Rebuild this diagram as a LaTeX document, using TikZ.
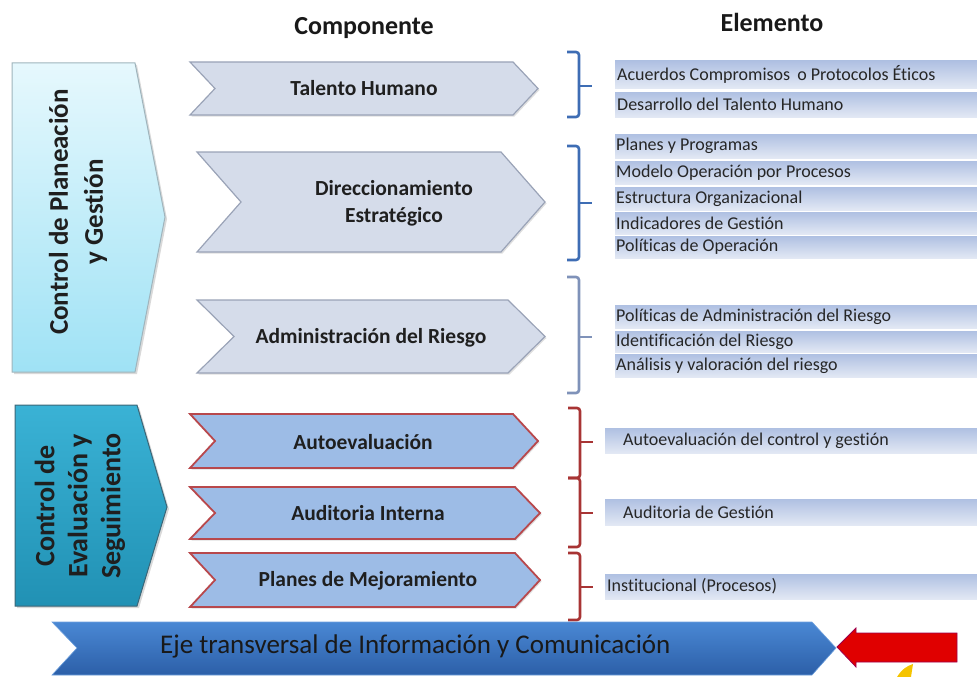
\documentclass[tikz,border=0pt]{standalone}
\usepackage{fontspec}
\setmainfont{Carlito}[Ligatures=NoCommon]
\usetikzlibrary{shadows}
\definecolor{chevtopfill}{HTML}{D5DCEA}
\definecolor{chevtopline}{HTML}{9AA3B7}
\definecolor{chevbotfill}{HTML}{9DBCE6}
\definecolor{redline}{HTML}{B8484C}
\definecolor{boxatop}{HTML}{E6F8FD}
\definecolor{boxabot}{HTML}{9FE2F5}
\definecolor{boxaline}{HTML}{9FB4BC}
\definecolor{boxbtop}{HTML}{3AB2D5}
\definecolor{boxbbot}{HTML}{2191B4}
\definecolor{boxbline}{HTML}{3B6677}
\definecolor{bartop}{HTML}{AFC0E2}
\definecolor{barbot}{HTML}{E2E8F4}
\definecolor{ejetop}{HTML}{4A88D4}
\definecolor{ejebot}{HTML}{2C5FA8}
\definecolor{braceblue}{HTML}{3E6DB4}
\definecolor{bracegrey}{HTML}{7F92B9}
\definecolor{bracered}{HTML}{A83434}
\definecolor{arrowred}{HTML}{E00000}
\definecolor{swoosh}{HTML}{F5C400}
\newcommand\chevshape[6]{%
  \path[#6] (#1,#2) -- ({#3-#5},#2) -- (#3,{(#2+#4)/2}) -- ({#3-#5},#4) -- (#1,#4) -- ({#1+#5},{(#2+#4)/2}) -- cycle;}
\newcommand\elbrace[5]{% top, mid, bottom, x, colour
  \draw[bracestyle, draw=#5] (#4-12,#1) -- (#4,#1) -- (#4,#3) -- (#4-12,#3);
  \draw[line width=2.6pt, draw=#5] (#4,#2) -- (#4+13,#2);}
\tikzset{
  chevtop/.style={draw=chevtopline, fill=chevtopfill, line width=1.2pt, drop shadow={opacity=0.25, shadow xshift=1.5pt, shadow yshift=-1.5pt}},
  chevbot/.style={draw=redline, fill=chevbotfill, line width=1.8pt, drop shadow={opacity=0.25, shadow xshift=1.5pt, shadow yshift=-1.5pt}},
  ctext/.style={font=\bfseries\fontsize{21.5}{27}\selectfont, text=black!88, align=center, inner sep=0pt},
  btext/.style={font=\bfseries\fontsize{27}{35}\selectfont, text=black!88, align=center, inner sep=0pt, rotate=90},
  etext/.style={font=\fontsize{18}{20}\selectfont, anchor=west, inner sep=0pt, text=black!85},
  bar/.style={top color=bartop, bottom color=barbot, draw=none},
  bracestyle/.style={line width=2.6pt, rounded corners=3pt},
  title/.style={font=\bfseries\fontsize{26}{28}\selectfont, text=black!90, inner sep=0pt},
}
\begin{document}
\begin{tikzpicture}[x=1pt,y=-1pt]
\useasboundingbox (0,0) rectangle (977,677);
% titles
\node[title] (tcomp) at (364,28) {Componente};
\node[title] (telem) at (772,22) {Elemento};
% left boxes
\path[draw=boxaline, line width=1pt, top color=boxatop, bottom color=boxabot, drop shadow={opacity=0.3, shadow xshift=2pt, shadow yshift=-2pt}]
  (12,63) -- (135,63) -- (165,217) -- (135,372) -- (12,372) -- cycle;
\node[btext] (pg) at (78,212) {Control de Planeación\\y Gestión};
\path[draw=boxbline, line width=1pt, top color=boxbtop, bottom color=boxbbot, drop shadow={opacity=0.3, shadow xshift=2pt, shadow yshift=-2pt}]
  (15,405) -- (137,405) -- (167,507) -- (137,606) -- (15,606) -- cycle;
\node[btext, font=\bfseries\fontsize{28}{33}\selectfont] (es) at (80,506) {Control de\\Evaluación y\\Seguimiento};
% chevrons
\chevshape{190}{62}{538}{115}{25}{chevtop}
\chevshape{197}{152}{545}{252}{44}{chevtop}
\chevshape{197}{300}{545}{373}{37}{chevtop}
\chevshape{190}{414}{538}{468}{25}{chevbot}
\chevshape{190}{487}{540}{539}{25}{chevbot}
\chevshape{190}{553}{540}{607}{25}{chevbot}
\node[ctext] (th) at (364,88) {Talento Humano};
\node[ctext] (de) at (394,203) {Direccionamiento\\Estratégico};
\node[ctext] (ar) at (371,338) {Administración del Riesgo};
\node[ctext] (ae) at (363,442) {Autoevaluación};
\node[ctext] (ai) at (368,513) {Auditoria Interna};
\node[ctext] (pm) at (368,581) {Planes de Mejoramiento};
% braces
\elbrace{52}{86}{117}{579}{braceblue}
\elbrace{146}{203}{260}{579}{braceblue}
\elbrace{277}{337}{393}{579}{bracegrey}
\elbrace{408}{442}{478}{580}{bracered}
\elbrace{478}{513}{547}{580}{bracered}
\elbrace{553}{587}{620}{580}{bracered}
% element bars
\fill[bar] (615,61) rectangle (977,88);
\fill[bar] (615,92) rectangle (977,117);
\fill[bar] (615,134) rectangle (977,158);
\fill[bar] (615,161) rectangle (977,184);
\fill[bar] (615,187) rectangle (977,210);
\fill[bar] (615,212) rectangle (977,234);
\fill[bar] (615,236) rectangle (977,258);
\fill[bar] (615,305) rectangle (977,328);
\fill[bar] (615,331) rectangle (977,352);
\fill[bar] (615,354) rectangle (977,377);
\fill[bar] (605,428) rectangle (977,453);
\fill[bar] (605,499) rectangle (977,525);
\fill[bar] (605,574) rectangle (977,599);
\node[etext] (e1) at (617,74.5) {Acuerdos Compromisos\, o Protocolos Éticos};
\node[etext] (e2) at (617,104.5) {Desarrollo del Talento Humano};
\node[etext] (e3) at (616,146) {Planes y Programas};
\node[etext] (e4) at (616,172.5) {Modelo Operación por Procesos};
\node[etext] (e5) at (616,198.5) {Estructura Organizacional};
\node[etext] (e6) at (616,223) {Indicadores de Gestión};
\node[etext] (e7) at (616,247) {Políticas de Operación};
\node[etext] (e8) at (616,316.5) {Políticas de Administración del Riesgo};
\node[etext] (e9) at (616,341.5) {Identificación del Riesgo};
\node[etext] (e10) at (616,365.5) {Análisis y valoración del riesgo};
\node[etext] (e11) at (623,440.5) {Autoevaluación del control y gestión};
\node[etext] (e12) at (623,512) {Auditoria de Gestión};
\node[etext] (e13) at (607,586.5) {Institucional (Procesos)};
% bottom axis arrow
\path[top color=ejetop, bottom color=ejebot, draw=ejetop!80!white, line width=0.6pt]
  (52,622) -- (812,622) -- (836,648) -- (812,675) -- (52,675) -- (77,648) -- cycle;
\node[font=\fontsize{27}{30}\selectfont, text=black!90, anchor=west, inner sep=0pt] (eje) at (160,646) {Eje transversal de Información y Comunicación};
% red arrow
\path[fill=arrowred, draw=arrowred!70!blue, line width=0.8pt]
  (837,647) -- (856,628) -- (856,633) -- (957,633) -- (957,662) -- (856,662) -- (856,667) -- cycle;
% yellow swoosh
\fill[swoosh] (897,677) .. controls (902,669) and (907,666) .. (913,664) -- (911,677) -- cycle;
\end{tikzpicture}
\end{document}
